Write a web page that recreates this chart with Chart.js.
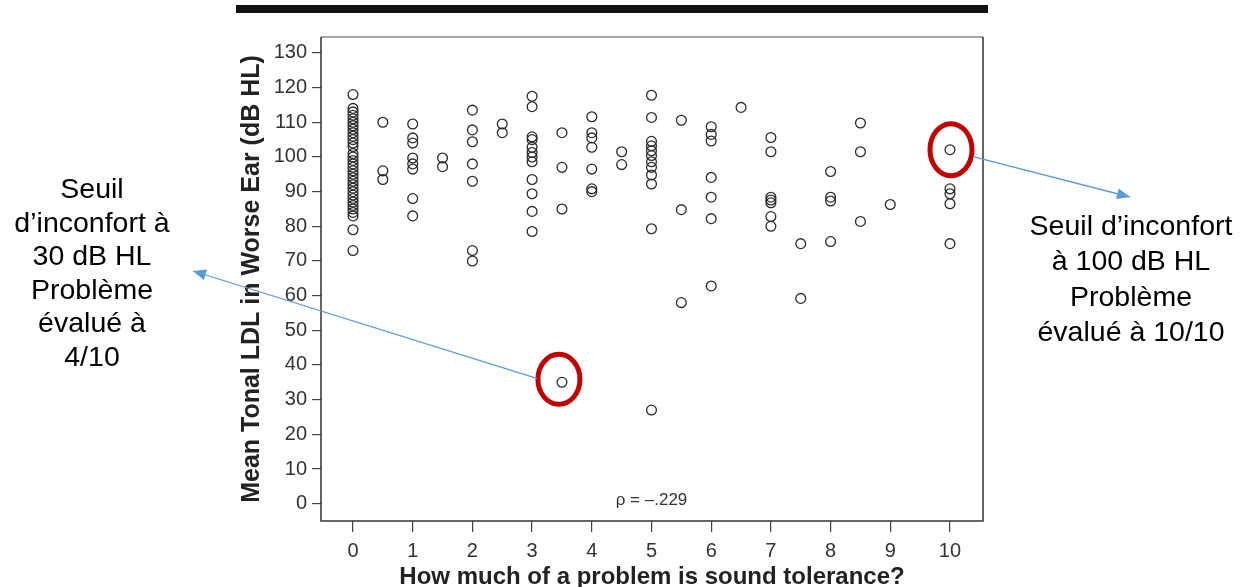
<!DOCTYPE html>
<html><head><meta charset="utf-8">
<script src="https://cdn.jsdelivr.net/npm/chart.js@4/dist/chart.umd.min.js"></script>
<style>html,body{margin:0;padding:0;background:#fff;overflow:hidden}#wrap{width:1241px;height:587px;position:relative}</style>
</head><body><div id="wrap"><canvas id="c" width="1241" height="587"></canvas></div>
<script>
// Problem score (x) categories and the LDL values (y) read at each score
const scores = [0, 0.5, 1, 1.5, 2, 2.5, 3, 3.5, 4, 4.5, 5, 5.5, 6, 6.5, 7, 7.5, 8, 8.5, 9, 10];
const ldl0  = [118, 114, 113, 112, 111, 110, 109, 108, 107, 106, 105, 104, 103, 101, 100, 99, 98, 97, 96, 95, 94, 93, 92, 91, 90, 89, 88, 87, 86, 85, 84, 83, 79, 73];
const ldl05 = [110, 96, 93.5];
const ldl1  = [109.5, 105.5, 104, 99.7, 98, 96.5, 88, 83];
const ldl15 = [99.7, 97.2];
const ldl2  = [113.5, 107.8, 104.4, 98, 93, 73, 70];
const ldl25 = [109.5, 107];
const ldl3  = [117.5, 114.5, 105.8, 105, 102.8, 101.3, 100, 98.6, 93.5, 89.4, 84.3, 78.5];
const ldl35 = [107, 97, 85, 35];
const ldl4  = [111.6, 107, 105.5, 102.8, 96.5, 90.8, 90];
const ldl45 = [101.5, 97.8];
const ldl5  = [117.8, 111.4, 104.5, 103.2, 101.8, 100.4, 98.6, 97, 94.8, 92.2, 79.3, 27];
const ldl55 = [110.6, 84.8, 58];
const ldl6  = [108.7, 106.5, 104.6, 94.1, 88.4, 82.2, 62.8];
const ldl65 = [114.3];
const ldl7  = [105.6, 101.5, 88.4, 87.6, 86.8, 82.8, 80];
const ldl75 = [75, 59.2];
const ldl8  = [95.8, 88.4, 87.3, 75.6];
const ldl85 = [109.8, 101.5, 81.4];
const ldl9  = [86.3];
const ldl10 = [102.1, 90.8, 89.4, 86.5, 75];
const ldlColumns = [ldl0, ldl05, ldl1, ldl15, ldl2, ldl25, ldl3, ldl35, ldl4, ldl45, ldl5, ldl55, ldl6, ldl65, ldl7, ldl75, ldl8, ldl85, ldl9, ldl10];

const xTickValues = [0, 1, 2, 3, 4, 5, 6, 7, 8, 9, 10];
const yTickValues = [0, 10, 20, 30, 40, 50, 60, 70, 80, 90, 100, 110, 120, 130];

const xTitle = 'How much of a problem is sound tolerance?';
const yTitle = 'Mean Tonal LDL in Worse Ear (dB HL)';
const rhoText = 'ρ = –.229';
const highlighted = [[3.5, 35], [10, 102.1]];
const leftNote = ['Seuil', 'd’inconfort à', '30 dB HL', 'Problème', 'évalué à', '4/10'];
const rightNote = ['Seuil d’inconfort', 'à 100 dB HL', 'Problème', 'évalué à 10/10'];

const points = [];
scores.forEach((s, i) => ldlColumns[i].forEach(v => points.push({x: s, y: v})));

const FAM = '"Liberation Sans", Arial, Helvetica, sans-serif';

function arrow(ctx, x1, y1, x2, y2) {
  ctx.beginPath(); ctx.moveTo(x1, y1); ctx.lineTo(x2, y2); ctx.stroke();
  const a = Math.atan2(y2 - y1, x2 - x1), L = 13, W = 5.5;
  ctx.beginPath();
  ctx.moveTo(x2, y2);
  ctx.lineTo(x2 - L * Math.cos(a) + W * Math.sin(a), y2 - L * Math.sin(a) - W * Math.cos(a));
  ctx.lineTo(x2 - L * Math.cos(a) - W * Math.sin(a), y2 - L * Math.sin(a) + W * Math.cos(a));
  ctx.closePath(); ctx.fill();
}

const deco = {
  id: 'deco',
  beforeDraw(chart) {
    const ctx = chart.ctx;
    ctx.save(); ctx.fillStyle = '#fff'; ctx.fillRect(0, 0, chart.width, chart.height); ctx.restore();
  },
  afterDraw(chart) {
    const {ctx, chartArea: a, scales: {x, y}} = chart;
    ctx.save();
    // frame: grey top, dark other sides
    ctx.lineWidth = 1.5;
    ctx.strokeStyle = '#888';
    ctx.beginPath(); ctx.moveTo(a.left, a.top); ctx.lineTo(a.right, a.top); ctx.stroke();
    ctx.strokeStyle = '#333';
    ctx.beginPath(); ctx.moveTo(a.right, a.top); ctx.lineTo(a.right, a.bottom); ctx.lineTo(a.left, a.bottom); ctx.lineTo(a.left, a.top); ctx.stroke();
    // top black bar
    ctx.fillStyle = '#111'; ctx.fillRect(236, 5, 752, 8);
    // rho
    ctx.fillStyle = '#333'; ctx.font = '17px ' + FAM; ctx.textAlign = 'center'; ctx.textBaseline = 'middle';
    ctx.fillText(rhoText, x.getPixelForValue(5), 500);
    // red ellipses
    ctx.strokeStyle = '#c00000'; ctx.lineWidth = 5;
    const p1x = x.getPixelForValue(highlighted[0][0]), p1y = y.getPixelForValue(highlighted[0][1]);
    const p2x = x.getPixelForValue(highlighted[1][0]), p2y = y.getPixelForValue(highlighted[1][1]);
    ctx.beginPath(); ctx.ellipse(p1x - 3, p1y - 3, 21, 25, 0, 0, Math.PI * 2); ctx.stroke();
    ctx.beginPath(); ctx.ellipse(p2x + 1, p2y, 21, 26, 0, 0, Math.PI * 2); ctx.stroke();
    // arrows
    ctx.strokeStyle = '#5b9bd5'; ctx.fillStyle = '#5b9bd5'; ctx.lineWidth = 1.3;
    arrow(ctx, p1x - 25, p1y - 4, 193, 271);
    arrow(ctx, p2x + 23, p2y + 7, 1130, 197);
    // notes
    ctx.fillStyle = '#000'; ctx.font = '28.5px ' + FAM; ctx.textAlign = 'center'; ctx.textBaseline = 'alphabetic';
    leftNote.forEach((t, i) => ctx.fillText(t, 92, 198 + i * 33.5));
    rightNote.forEach((t, i) => ctx.fillText(t, 1131, 235 + i * 35.3));
    ctx.restore();
  }
};

new Chart(document.getElementById('c'), {
  type: 'scatter',
  data: {datasets: [{
    data: points,
    pointRadius: 4.9, pointHoverRadius: 4.9,
    pointBorderColor: '#2a2a2a', pointBackgroundColor: 'rgba(0,0,0,0)', pointBorderWidth: 1.3,
    showLine: false
  }]},
  options: {
    responsive: false, animation: false, devicePixelRatio: 1, events: [],
    layout: {padding: {left: 228, right: 258, top: 37, bottom: 0}},
    plugins: {legend: {display: false}, tooltip: {enabled: false}},
    scales: {
      x: {
        type: 'linear', min: -0.536, max: 10.553,
        afterBuildTicks: s => { s.ticks = xTickValues.map(v => ({value: v})); },
        afterFit: s => { s.height = 66; },
        border: {display: false},
        grid: {drawOnChartArea: false, drawTicks: true, tickLength: 11, color: '#444', lineWidth: 1.2},
        ticks: {font: {family: FAM, size: 20}, color: '#333', padding: 7, maxRotation: 0, autoSkip: false},
        title: {display: true, text: xTitle, font: {family: FAM, size: 24, weight: 'bold'}, color: '#222', padding: {top: 0, bottom: -5}}
      },
      y: {
        type: 'linear', min: -5, max: 134.6,
        afterBuildTicks: s => { s.ticks = yTickValues.map(v => ({value: v})); },
        afterFit: s => { s.width = 93; },
        border: {display: false},
        grid: {drawOnChartArea: false, drawTicks: true, tickLength: 9, color: '#444', lineWidth: 1.2},
        ticks: {font: {family: FAM, size: 20}, color: '#333', padding: 5, autoSkip: false},
        title: {display: true, text: yTitle, font: {family: FAM, size: 25, weight: 'bold'}, color: '#222', padding: {top: 9, bottom: 0}}
      }
    }
  },
  plugins: [deco]
});
</script></body></html>
